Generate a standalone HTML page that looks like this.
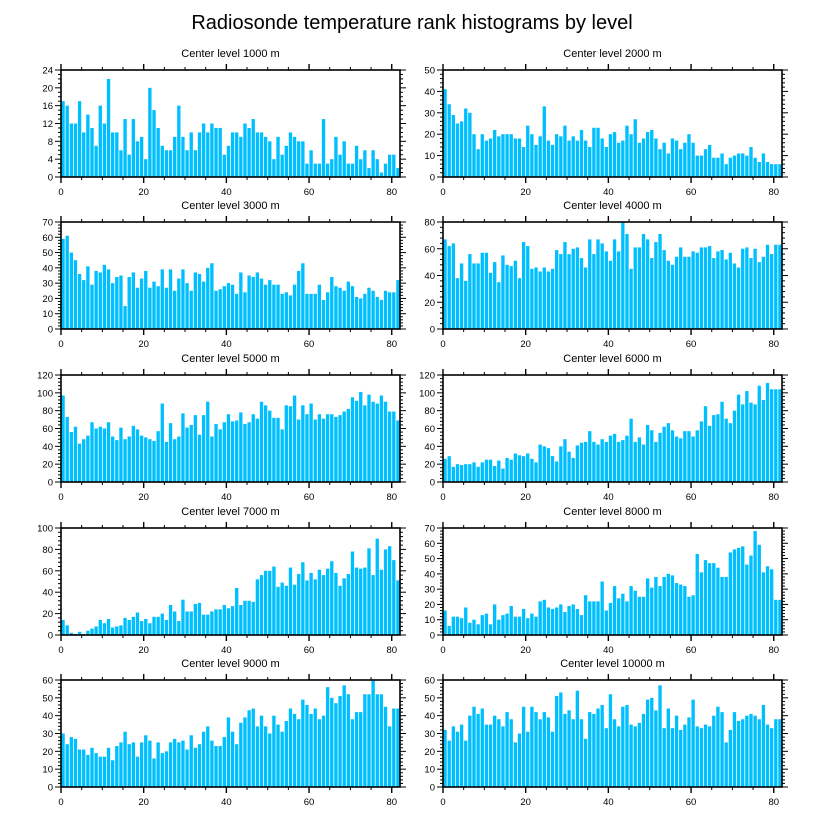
<!DOCTYPE html>
<html><head><meta charset="utf-8">
<style>
html,body{margin:0;padding:0;background:#fff;}
svg{display:block;font-family:"Liberation Sans",sans-serif;}
</style></head>
<body>
<svg id="chart" width="824" height="824" viewBox="0 0 824 824">
<text x="412" y="29" text-anchor="middle" font-size="20">Radiosonde temperature rank histograms by level</text>
</svg>
<script>
const panelTitles = ["Center level 1000 m","Center level 2000 m","Center level 3000 m","Center level 4000 m","Center level 5000 m","Center level 6000 m","Center level 7000 m","Center level 8000 m","Center level 9000 m","Center level 10000 m"];
const yMaxes = [24,50,70,80,120,120,100,70,60,60];
const yStepsMajor = [4,10,10,20,20,20,20,10,10,10];
const xTickLabels = [0,20,40,60,80];
const counts1000 = [17,16,12,12,17,10,14,11,7,16,12,22,10,10,6,13,5,13,8,9,4,20,15,11,7,6,6,9,16,9,6,10,6,10,12,10,12,11,11,5,7,10,10,9,12,11,13,10,10,9,8,4,9,5,7,10,9,8,8,3,6,3,3,13,3,4,9,5,8,3,3,7,4,6,2,6,4,1,3,5,5,2];
const counts2000 = [41,34,29,25,26,32,30,20,13,20,17,18,22,19,20,20,20,18,18,14,24,20,15,19,33,17,15,20,19,24,17,19,17,22,17,14,23,23,18,14,20,21,16,17,24,20,27,16,18,21,22,18,13,16,11,18,17,13,16,20,16,10,10,13,15,9,9,11,6,9,10,11,11,10,14,9,7,11,7,6,6,6];
const counts3000 = [59,61,50,45,36,32,41,29,38,37,42,39,30,34,35,15,34,37,27,33,38,27,31,28,39,27,39,25,33,39,30,25,37,36,31,40,43,25,26,28,30,29,23,37,24,35,34,37,33,29,32,29,29,23,24,22,29,38,43,23,23,23,29,19,24,34,28,27,25,31,28,21,20,23,27,25,21,19,25,24,24,32];
const counts4000 = [67,62,64,38,49,36,56,49,49,57,57,42,50,35,55,48,47,51,38,65,62,45,46,43,46,43,45,59,56,65,56,60,61,53,46,67,56,67,64,58,51,67,58,80,71,45,61,61,71,67,53,65,71,59,51,48,54,61,54,54,58,57,61,61,62,53,58,59,52,57,49,46,60,61,53,60,50,54,63,56,63,63];
const counts5000 = [97,73,56,62,43,48,52,67,60,62,60,67,51,47,61,48,51,63,59,52,50,48,46,57,88,45,66,48,51,77,61,64,75,53,75,90,51,65,59,67,76,68,69,78,65,67,76,71,90,86,80,72,72,59,86,85,97,70,86,76,88,70,76,71,76,76,73,75,79,82,95,91,101,86,98,90,88,97,90,79,79,69];
const counts6000 = [26,29,17,20,19,20,20,22,17,22,25,25,18,24,15,27,25,32,30,29,32,26,22,42,40,38,29,23,40,48,34,27,41,44,45,57,45,42,48,45,52,54,45,47,52,71,45,50,42,64,58,45,55,62,66,58,51,49,57,57,51,58,68,85,63,75,76,90,71,66,80,98,87,102,89,87,108,92,111,104,104,104];
const counts7000 = [14,9,2,1,3,1,4,6,8,14,11,15,7,8,9,16,14,17,21,13,15,11,17,17,20,14,28,22,13,33,22,22,29,30,19,19,22,24,24,28,25,27,44,28,32,32,31,52,56,60,60,64,45,49,46,63,47,57,68,51,58,52,61,56,62,69,58,46,53,57,78,63,62,63,81,56,90,61,80,83,70,51];
const counts8000 = [16,6,12,12,11,18,8,10,7,13,14,7,20,10,13,14,19,12,12,17,11,14,12,22,23,18,17,18,20,15,19,20,17,13,26,22,22,22,35,16,21,32,24,27,22,32,29,25,25,37,31,38,32,38,40,39,34,33,32,25,26,53,41,49,47,47,44,38,38,54,56,57,58,46,52,68,59,41,45,43,23,23];
const counts9000 = [30,24,28,27,21,21,18,22,19,17,17,22,15,23,25,31,24,25,17,25,29,26,16,25,19,20,25,27,25,26,21,29,22,24,31,34,26,23,23,28,39,31,24,36,39,43,44,34,40,34,30,40,35,31,37,44,41,38,49,46,41,44,38,40,56,50,47,51,57,52,38,42,42,52,52,60,52,52,45,34,44,44];
const counts10000 = [32,26,34,31,35,26,40,45,41,44,35,35,40,38,34,42,38,25,30,45,31,45,42,38,42,39,31,51,53,41,43,38,54,38,27,42,41,44,46,33,52,38,34,45,46,35,34,36,41,49,50,43,57,33,44,33,40,32,35,39,49,34,33,35,34,40,45,42,25,32,42,37,38,40,41,40,38,46,35,33,38,38];
const allCounts = [counts1000,counts2000,counts3000,counts4000,counts5000,counts6000,counts7000,counts8000,counts9000,counts10000];

const NS = "http://www.w3.org/2000/svg";
const svg = document.getElementById("chart");
function mk(tag, attrs, parent){
  const e = document.createElementNS(NS, tag);
  for (const k in attrs) e.setAttribute(k, attrs[k]);
  (parent||svg).appendChild(e);
  return e;
}
const colX = [61, 443], plotW = 339;
const rowY = [70, 222, 375, 528, 680], plotH = 107;
const xMax = 82;

for (let p = 0; p < 10; p++) {
  const col = p % 2, row = Math.floor(p / 2);
  const x0 = colX[col], y0 = rowY[row];
  const ymax = yMaxes[p], step = yStepsMajor[p];
  const data = allCounts[p];
  const xs = v => x0 + v / xMax * plotW;
  const ys = v => y0 + plotH - v / ymax * plotH;
  const g = mk("g", {});
  
  

  const t = mk("text", {x: x0 + plotW/2, y: y0 - 13, "text-anchor": "middle", "font-size": "11"}, g);
  t.textContent = panelTitles[p];
  
  

  data.forEach((v, i) => {
    const r = mk("rect", {x: xs(i) + 0.4, y: ys(v), width: Math.max(0.5, xs(i+1) - xs(i) - 0.8), height: ys(0) - ys(v), fill: "#00bfff"}, g);
    
    
  });

  // y ticks
  const minorStep = step / ((step === 4) ? 4 : 5);
  for (let v = 0; v <= ymax + 1e-9; v += minorStep) {
    const major = Math.abs(v / step - Math.round(v / step)) < 1e-6;
    const L = major ? 6 : 3;
    mk("line", {x1: x0, x2: x0 - L, y1: ys(v), y2: ys(v), stroke: "#000", "stroke-width": 1}, g);
    mk("line", {x1: x0 + plotW, x2: x0 + plotW + L, y1: ys(v), y2: ys(v), stroke: "#000", "stroke-width": 1}, g);
    if (major) {
      const lt = mk("text", {x: x0 - 8, y: ys(v) + 3.5, "text-anchor": "end", "font-size": "9.5"}, g);
      lt.textContent = Math.round(v);
      
      
    }
  }
  // x ticks
  for (let v = 0; v <= xMax; v += 5) {
    const major = v % 20 === 0;
    const L = major ? 6 : 3;
    mk("line", {x1: xs(v), x2: xs(v), y1: y0 + plotH, y2: y0 + plotH + L, stroke: "#000", "stroke-width": major ? 1.4 : 1}, g);
    mk("line", {x1: xs(v), x2: xs(v), y1: y0, y2: y0 - L, stroke: "#000", "stroke-width": major ? 1.4 : 1}, g);
  }
  xTickLabels.forEach(v => {
    const xt = mk("text", {x: xs(v), y: y0 + plotH + 18, "text-anchor": "middle", "font-size": "9.5"}, g);
    xt.textContent = v;
    
    
  });
  const fr = mk("rect", {x: x0, y: y0, width: plotW, height: plotH, fill: "none", stroke: "#000", "stroke-width": 1.6}, g);
  
  
}
</script>
</body></html>
